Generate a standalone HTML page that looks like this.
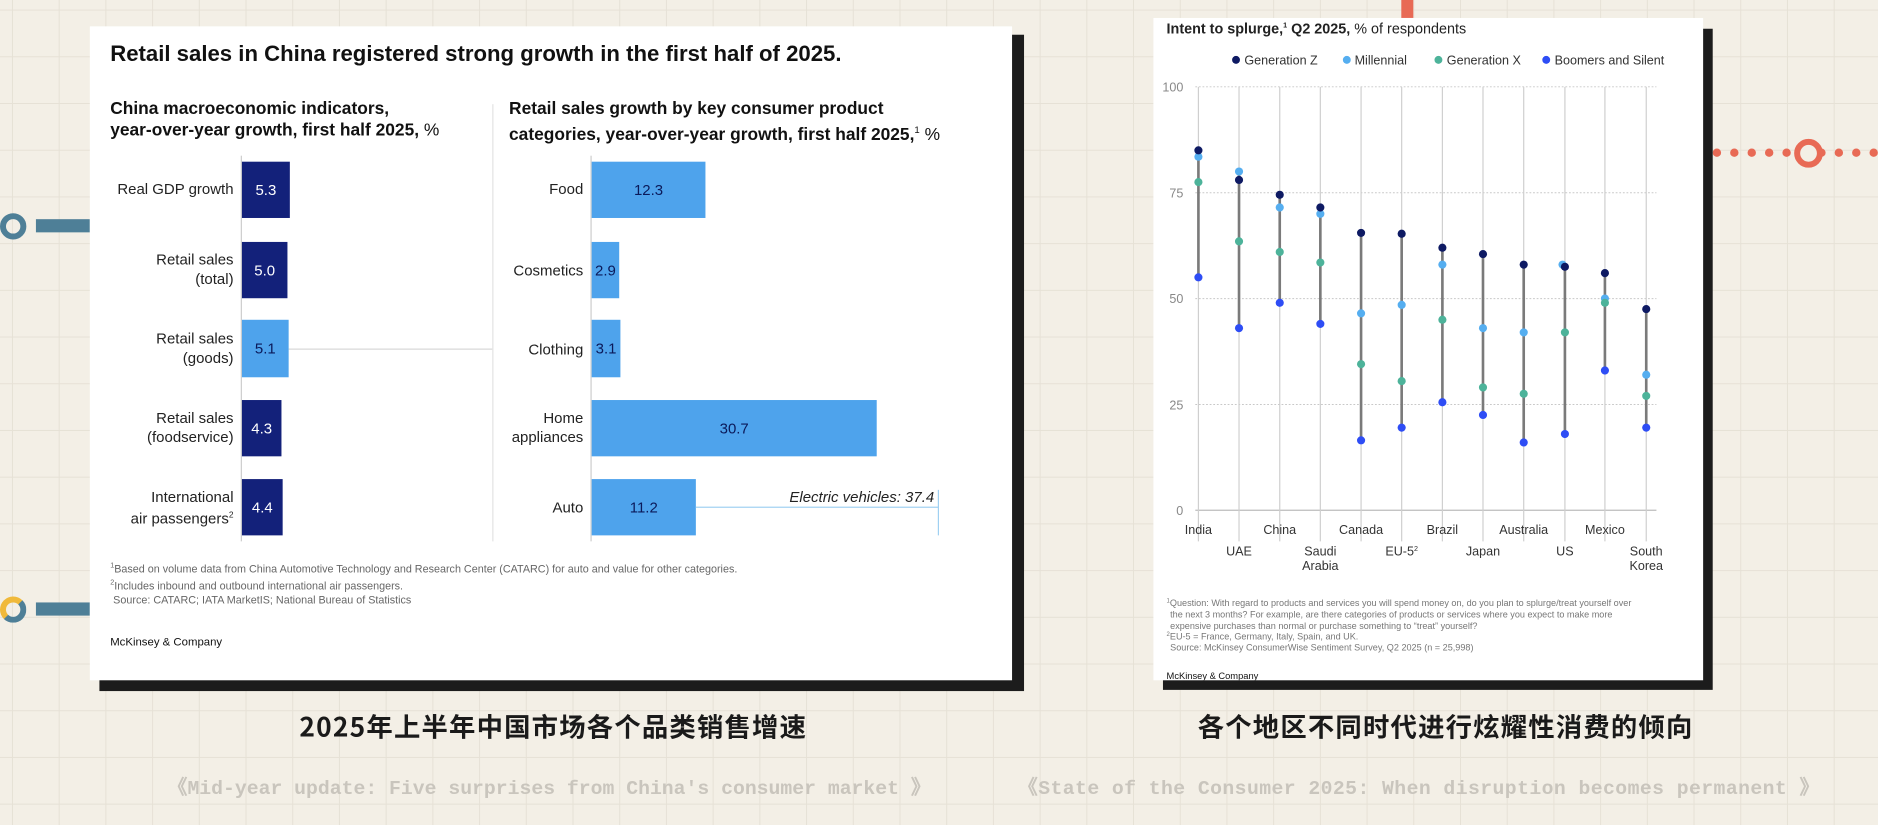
<!DOCTYPE html>
<html><head><meta charset="utf-8"><style>
html,body{margin:0;padding:0;width:1878px;height:825px;overflow:hidden;background:#f3efe6;}
#s{position:absolute;left:0;top:0;width:1568px;height:689px;transform:scale(1.19770);transform-origin:0 0;
background-color:#f3efe6;background-image:linear-gradient(#e6e1d6 1px,transparent 1px),linear-gradient(90deg,#e6e1d6 1px,transparent 1px);background-size:39px 39px;background-position:10px 8px;
font-family:"Liberation Sans","Noto Sans CJK SC",sans-serif;}
.a{position:absolute;white-space:nowrap;}
.r{text-align:right;}
.lbl{font-size:12.5px;color:#222;line-height:16px;}
.bar{position:absolute;color:#fff;font-size:12.5px;display:flex;align-items:center;justify-content:center;}
.fn{font-size:9px;color:#666;line-height:12px;}
.cn{font-family:"WenQuanYi Zen Hei","Noto Sans CJK SC",sans-serif;font-weight:bold;font-size:22px;color:#1a1a1a;letter-spacing:1px;}
.en{font-family:"Liberation Mono",monospace;font-weight:bold;font-size:16.5px;color:#c9c5bd;}
</style></head><body><div id="s">
<div class="a" style="left:0;top:178px;width:22px;height:22px;border-radius:50%;border:5px solid #4e7f97;box-sizing:border-box;"></div>
<div class="a" style="left:30px;top:183px;width:45px;height:11px;background:#4e7f97;"></div>
<div class="a" style="left:0;top:498px;width:22px;height:22px;border-radius:50%;border:5px solid #f0b93a;border-right-color:#4e7f97;border-bottom-color:#4e7f97;box-sizing:border-box;"></div>
<div class="a" style="left:30px;top:503px;width:45px;height:11px;background:#4e7f97;"></div>
<div class="a" style="left:1170px;top:0;width:10px;height:15px;background:#e86a55;"></div>
<div class="a" style="left:1430px;top:124px;width:138px;height:0;border-top:7px dotted #e86a55;"></div>
<div class="a" style="left:1498px;top:116px;width:24px;height:24px;border-radius:50%;border:5px solid #e86a55;box-sizing:border-box;background:#f3efe6;"></div>

<div class="a" style="left:83px;top:29px;width:772px;height:548px;background:#1c1c1c;"></div>
<div class="a" style="left:75px;top:22px;width:770px;height:546px;background:#fff;"></div>
<div class="a" style="left:92px;top:34px;font-size:18.5px;font-weight:bold;color:#111;">Retail sales in China registered strong growth in the first half of 2025.</div>
<div class="a" style="left:92px;top:82px;font-size:14.5px;font-weight:bold;color:#111;line-height:18px;">China macroeconomic indicators,<br>year-over-year growth, first half 2025, <span style="font-weight:normal">%</span></div>
<div class="a" style="left:425px;top:82px;font-size:14.5px;font-weight:bold;color:#111;line-height:18px;">Retail sales growth by key consumer product<br>categories, year-over-year growth, first half 2025,<sup style="font-size:8px;font-weight:normal">1</sup> <span style="font-weight:normal">%</span></div>
<div class="a" style="left:411px;top:87px;width:1px;height:365px;background:#e2e2e2;"></div>
<div class="a" style="left:201px;top:130px;width:1px;height:322px;background:#ccc;"></div>
<div class="a" style="left:493px;top:130px;width:1px;height:322px;background:#ccc;"></div>
<div class="a" style="left:241px;top:291px;width:170px;height:1px;background:#d8d8d8;"></div>

<div class="a lbl r" style="right:1373px;top:150px;">Real GDP growth</div>
<div class="a lbl r" style="right:1373px;top:209px;">Retail sales<br>(total)</div>
<div class="a lbl r" style="right:1373px;top:275px;">Retail sales<br>(goods)</div>
<div class="a lbl r" style="right:1373px;top:341px;">Retail sales<br>(foodservice)</div>
<div class="a lbl r" style="right:1373px;top:407px;">International<br>air passengers<sup style="font-size:7px">2</sup></div>
<div class="bar" style="left:202px;top:135px;width:40px;height:47px;background:#13217a;">5.3</div>
<div class="bar" style="left:202px;top:202px;width:38px;height:47px;background:#13217a;">5.0</div>
<div class="bar" style="left:202px;top:267px;width:39px;height:48px;background:#4ea3ec;color:#0b1a5a;">5.1</div>
<div class="bar" style="left:202px;top:334px;width:33px;height:47px;background:#13217a;">4.3</div>
<div class="bar" style="left:202px;top:400px;width:34px;height:47px;background:#13217a;">4.4</div>

<div class="a lbl r" style="right:1081px;top:150px;">Food</div>
<div class="a lbl r" style="right:1081px;top:218px;">Cosmetics</div>
<div class="a lbl r" style="right:1081px;top:284px;">Clothing</div>
<div class="a lbl r" style="right:1081px;top:341px;">Home<br>appliances</div>
<div class="a lbl r" style="right:1081px;top:416px;">Auto</div>
<div class="bar" style="left:494px;top:135px;width:95px;height:47px;background:#4ea3ec;color:#0b1a5a;">12.3</div>
<div class="bar" style="left:494px;top:202px;width:23px;height:47px;background:#4ea3ec;color:#0b1a5a;">2.9</div>
<div class="bar" style="left:494px;top:267px;width:24px;height:48px;background:#4ea3ec;color:#0b1a5a;">3.1</div>
<div class="bar" style="left:494px;top:334px;width:238px;height:47px;background:#4ea3ec;color:#0b1a5a;">30.7</div>
<div class="bar" style="left:494px;top:400px;width:87px;height:47px;background:#4ea3ec;color:#0b1a5a;">11.2</div>
<div class="a" style="left:581px;top:423px;width:203px;height:1px;background:#9fd0f2;"></div>
<div class="a" style="left:783px;top:409px;width:1px;height:38px;background:#9fd0f2;"></div>
<div class="a r" style="right:788px;top:408px;font-size:12.5px;font-style:italic;color:#222;">Electric vehicles: 37.4</div>

<div class="a fn" style="left:92px;top:467px;"><sup style="font-size:6px">1</sup>Based on volume data from China Automotive Technology and Research Center (CATARC) for auto and value for other categories.<br><sup style="font-size:6px">2</sup>Includes inbound and outbound international air passengers.<br>&nbsp;Source: CATARC; IATA MarketIS; National Bureau of Statistics</div>
<div class="a" style="left:92px;top:531px;font-size:9.5px;color:#111;">McKinsey &amp; Company</div>
<div class="a cn" style="left:250px;top:590px;">2025年上半年中国市场各个品类销售增速</div>
<div class="a en" style="left:140px;top:644px;">《Mid-year update: Five surprises from China's consumer market 》</div>

<div class="a" style="left:971px;top:24px;width:459px;height:552px;background:#1c1c1c;"></div>
<div class="a" style="left:963px;top:15px;width:459px;height:553px;background:#fff;"></div>
<div class="a" style="left:974px;top:17px;font-size:12px;color:#222;"><b>Intent to splurge,<sup style="font-size:6px">1</sup> Q2 2025,</b> % of respondents</div>
<svg class="a" style="left:963px;top:15px;" width="459" height="553" viewBox="963 15 459 553" font-family="Liberation Sans, sans-serif">
<g font-size="10.5" fill="#333">
<circle cx="1032" cy="50" r="3.3" fill="#0e1a63"/><text x="1039" y="54">Generation Z</text>
<circle cx="1124.5" cy="50" r="3.3" fill="#55aef0"/><text x="1131" y="54">Millennial</text>
<circle cx="1201" cy="50" r="3.3" fill="#4db39a"/><text x="1208" y="54">Generation X</text>
<circle cx="1291" cy="50" r="3.3" fill="#2e4df5"/><text x="1298" y="54">Boomers and Silent</text>
</g>
<g stroke="#c8c8c8" stroke-dasharray="1.5,1.5" stroke-width="0.8">
<line x1="998" x2="1383" y1="72.5" y2="72.5"/><line x1="998" x2="1383" y1="160.9" y2="160.9"/><line x1="998" x2="1383" y1="249.3" y2="249.3"/><line x1="998" x2="1383" y1="337.7" y2="337.7"/>
</g>
<line x1="998" x2="1383" y1="426" y2="426" stroke="#bbb"/>
<g font-size="10.5" fill="#888" text-anchor="end">
<text x="988" y="76.5">100</text><text x="988" y="165">75</text><text x="988" y="253">50</text><text x="988" y="342">25</text><text x="988" y="430">0</text>
</g>
<g id="pts"></g>
<g font-size="10.5" fill="#333" text-anchor="middle">
<text x="1000.6" y="446">India</text><text x="1034.5" y="464">UAE</text><text x="1068.5" y="446">China</text>
<text x="1102.4" y="464">Saudi</text><text x="1102.4" y="476">Arabia</text><text x="1136.4" y="446">Canada</text>
<text x="1170.3" y="464">EU-5<tspan font-size="6" dy="-4">2</tspan></text><text x="1204.3" y="446">Brazil</text><text x="1238.2" y="464">Japan</text>
<text x="1272.2" y="446">Australia</text><text x="1306.6" y="464">US</text><text x="1340" y="446">Mexico</text>
<text x="1374.5" y="464">South</text><text x="1374.5" y="476">Korea</text>
</g>
<g font-size="7.6" fill="#777">
<text x="974" y="506"><tspan font-size="5" dy="-3">1</tspan><tspan dy="3">Question: With regard to products and services you will spend money on, do you plan to splurge/treat yourself over</tspan></text>
<text x="977" y="515.5">the next 3 months? For example, are there categories of products or services where you expect to make more</text>
<text x="977" y="525">expensive purchases than normal or purchase something to “treat” yourself?</text>
<text x="974" y="534"><tspan font-size="5" dy="-3">2</tspan><tspan dy="3">EU-5 = France, Germany, Italy, Spain, and UK.</tspan></text>
<text x="977" y="543">Source: McKinsey ConsumerWise Sentiment Survey, Q2 2025 (n = 25,998)</text>
</g>
<text x="974" y="567" font-size="7.8" fill="#111">McKinsey &amp; Company</text>
</svg>
<div class="a cn" style="left:1000px;top:590px;">各个地区不同时代进行炫耀性消费的倾向</div>
<div class="a en" style="left:850px;top:644px;letter-spacing:0.35px;">《State of the Consumer 2025: When disruption becomes permanent 》</div>
</div>
<script>
var d=[[1000.6,85,83.5,77.5,55],[1034.5,78,80,63.5,43],[1068.5,74.5,71.5,61,49],[1102.4,71.5,70,58.5,44],[1136.4,65.5,46.5,34.5,16.5],[1170.3,65.3,48.5,30.5,19.5],[1204.3,62,58,45,25.5],[1238.2,60.5,43,29,22.5],[1272.2,58,42,27.5,16],[1306.6,57.5,58,42,18],[1340,56,50,49,33],[1374.5,47.5,32,27,19.5]];
var c=["#0e1a63","#55aef0","#4db39a","#2e4df5"],s="";
function Y(v){return 426-v*3.535;}
d.forEach(function(r){var x=r[0];var vs=r.slice(1);var mx=Math.max.apply(0,vs),mn=Math.min.apply(0,vs);
s+='<line x1="'+x+'" x2="'+x+'" y1="72.5" y2="452" stroke="#cfcfcf" stroke-width="1"/>';
s+='<line x1="'+x+'" x2="'+x+'" y1="'+Y(mx)+'" y2="'+Y(mn)+'" stroke="#7a7a7a" stroke-width="2.2"/>';
[1,3,2,0].forEach(function(i){var xx=x;if(r[0]==1306.6&&i==1)xx-=2;s+='<circle cx="'+xx+'" cy="'+Y(vs[i])+'" r="3.4" fill="'+c[i]+'"/>';});});
document.getElementById("pts").innerHTML=s;
</script>
</body></html>
